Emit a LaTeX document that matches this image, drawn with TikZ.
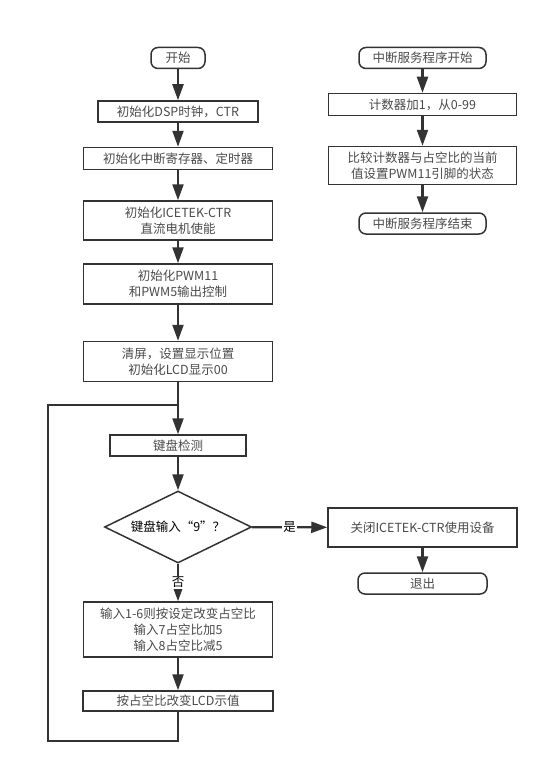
\documentclass[tikz,border=0pt]{standalone}
\usepackage{fontspec}
\setmainfont{Noto Sans CJK SC}
\definecolor{fcLine}{HTML}{333333}
\definecolor{fcText}{HTML}{4A4A4A}
\usetikzlibrary{arrows.meta,shapes.geometric}

\begin{document}
\begin{tikzpicture}[x=1pt, y=-1pt,
  box/.style={draw=fcLine, line width=1.5pt, text=fcText, inner sep=0pt,
    align=center, font=\fontsize{12.5}{16}\selectfont},
  term/.style={box, rounded corners=7pt},
  cond/.style={box, diamond, aspect=2, text=black},
  arr/.style={-{Triangle[length=16pt, width=11pt]}, line width=2.2pt, color=fcLine},
  loop/.style={line width=2.2pt, color=fcLine},
  tag/.style={fill=white, inner sep=1pt, text=black, font=\fontsize{12.5}{14}\selectfont}
]
  \useasboundingbox (0,0) rectangle (549,773);

  % main program
  \node[term, minimum width=54pt, minimum height=21pt] (start) at (178,58) {开始};
  \node[box, minimum width=160pt, minimum height=21pt] (dsp) at (178,111.5) {初始化DSP时钟，CTR};
  \node[box, minimum width=189pt, minimum height=22pt] (irq) at (178,158.5) {初始化中断寄存器、定时器};
  \node[box, minimum width=189pt, minimum height=39pt] (ctr) at (178,220.5) {初始化ICETEK-CTR\\直流电机使能};
  \node[box, minimum width=189pt, minimum height=40pt] (pwm) at (178,284) {初始化PWM11\\和PWM5输出控制};
  \node[box, minimum width=189pt, minimum height=40pt] (clr) at (178,361.5) {清屏，设置显示位置\\初始化LCD显示00};
  \node[box, minimum width=136pt, minimum height=21pt] (keys) at (178,445.5) {键盘检测};
  \node[cond, minimum width=147pt, minimum height=72pt] (ask) at (178,527) {键盘输入“9”？};
  \node[box, minimum width=189pt, minimum height=39pt] (off) at (422.5,527.5) {关闭ICETEK-CTR使用设备};
  \node[term, minimum width=129pt, minimum height=21pt] (quit) at (422.5,583.5) {退出};
  \node[box, minimum width=189pt, minimum height=55pt] (duty) at (178,629.5) {输入1-6则按设定改变占空比\\输入7占空比加5\\输入8占空比减5};
  \node[box, minimum width=190pt, minimum height=20pt] (show) at (178,701) {按占空比改变LCD示值};

  % interrupt routine
  \node[term, minimum width=127pt, minimum height=21pt] (isr) at (422.5,58) {中断服务程序开始};
  \node[box, minimum width=188pt, minimum height=22pt] (cnt) at (422.5,104.5) {计数器加1，从0-99};
  \node[box, minimum width=188pt, minimum height=38pt] (cmp) at (422.5,165.5) {比较计数器与占空比的当前\\值设置PWM11引脚的状态};
  \node[term, minimum width=127pt, minimum height=21pt] (isrend) at (422.5,223.5) {中断服务程序结束};

  \coordinate (loopB) at (48,741);
  \coordinate (loopT) at (48,405);
  \coordinate (join) at (178,405);

  \draw[arr] (start) -- (dsp);
  \draw[arr] (dsp) -- (irq);
  \draw[arr] (irq) -- (ctr);
  \draw[arr] (ctr) -- (pwm);
  \draw[arr] (pwm) -- (clr);
  \draw[arr] (clr) -- (keys);
  \draw[arr] (keys) -- (ask);
  \draw[arr] (ask) -- node[tag] {是} (off);
  \draw[arr] (off) -- (quit);
  \draw[arr] (ask) -- node[tag] {否} (duty);
  \draw[arr] (duty) -- (show);
  \draw[loop] (show.south) |- (loopB) -- (loopT) -- (join);

  \draw[arr] (isr) -- (cnt);
  \draw[arr] (cnt) -- (cmp);
  \draw[arr] (cmp) -- (isrend);
\end{tikzpicture}
\end{document}
